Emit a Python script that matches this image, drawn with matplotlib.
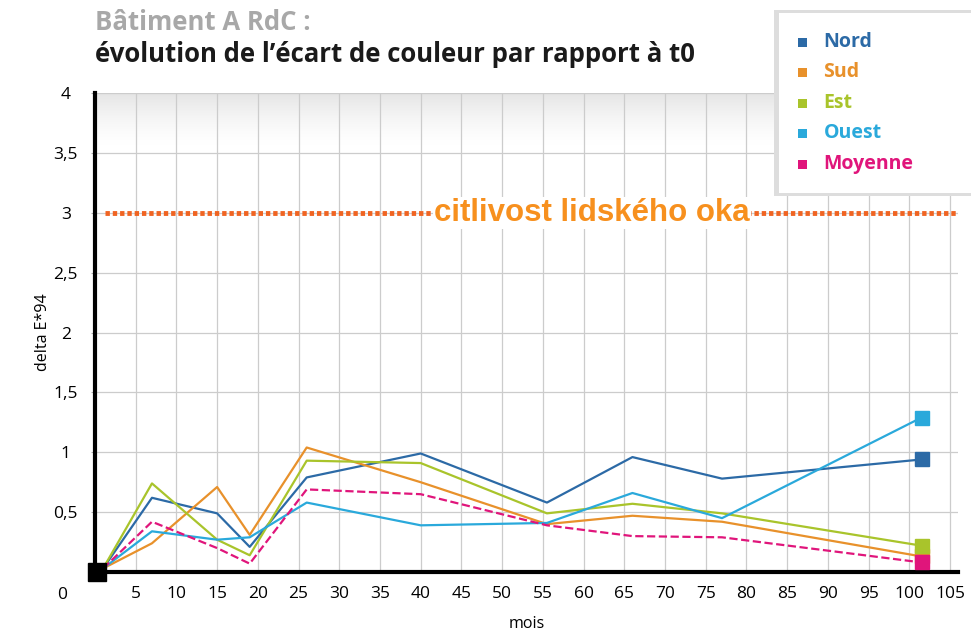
import matplotlib.pyplot as plt
import matplotlib.patches as mpatches
import numpy as np

# mois de mesure et écarts delta E*94
months = [1, 7, 15, 19, 26, 40, 55.5, 66, 77, 101.5]
nord = [0.03, 0.62, 0.49, 0.21, 0.79, 0.99, 0.58, 0.96, 0.78, 0.94]
sud = [0.03, 0.24, 0.71, 0.31, 1.04, 0.75, 0.40, 0.47, 0.42, 0.13]
est = [0.03, 0.74, 0.27, 0.14, 0.93, 0.91, 0.49, 0.57, 0.49, 0.22]
ouest = [0.03, 0.34, 0.27, 0.29, 0.58, 0.39, 0.41, 0.66, 0.45, 1.29]
moyenne = [0.03, 0.42, 0.20, 0.07, 0.69, 0.65, 0.39, 0.30, 0.29, 0.08]

names = ['Nord', 'Sud', 'Est', 'Ouest', 'Moyenne']
colors = ['#2c6aa6', '#e8912b', '#a9c42b', '#2aa9db', '#e0157b']
threshold = 3
threshold_label = 'citlivost lidského oka'

yticks = [0.5, 1, 1.5, 2, 2.5, 3, 3.5, 4]
ytick_labels = ['0,5', '1', '1,5', '2', '2,5', '3', '3,5', '4']
xticks = list(range(5, 106, 5))

plt.rcParams['font.family'] = ['Open Sans', 'DejaVu Sans']

fig = plt.figure(figsize=(9.71, 6.42), dpi=100)
ax = fig.add_axes([0.0978, 0.109, 0.889, 0.746])
ax.set_xlim(0, 106)
ax.set_ylim(0, 4)

# grey band at the top of the plot
t = np.linspace(0, 1, 60).reshape(-1, 1)
band = np.ones((60, 1, 4))
band[..., 0] = band[..., 1] = band[..., 2] = 0.90
band[..., 3] = t ** 1.5
ax.imshow(band, extent=[0, 106, 3.55, 4], aspect='auto', origin='lower',
          zorder=0.5)

ax.set_yticks(yticks)
ax.set_yticklabels(ytick_labels)
ax.set_xticks(xticks)
ax.grid(True, color='#cccccc', linewidth=0.9, zorder=1)
ax.set_axisbelow(True)
for s in ['top', 'right']:
    ax.spines[s].set_visible(False)
ax.spines['left'].set_linewidth(3)
ax.spines['bottom'].set_linewidth(3)
ax.tick_params(axis='y', length=3, color='#aaaaaa', pad=18, labelsize=12.5)
ax.tick_params(axis='x', length=0, pad=10, labelsize=12.5)
for lab in ax.get_yticklabels():
    lab.set_horizontalalignment('center')
ax.text(-4, -0.19, '0', ha='center', va='center', fontsize=12.5)

ax.set_xlabel('mois', fontsize=11.5, labelpad=10)
ax.set_ylabel('delta E*94', fontsize=11.5, labelpad=2)

series = [nord, sud, est, ouest, moyenne]
for vals, col, name in zip(series, colors, names):
    ls = '--' if name == 'Moyenne' else '-'
    ax.plot(months, vals, color=col, linewidth=1.6, linestyle=ls, zorder=3)
for vals, col in zip(series, colors):
    ax.plot(months[-1], vals[-1], marker='s', markersize=10, color=col,
            linestyle='none', zorder=4, clip_on=False)
ax.plot(0.2, 0, marker='s', markersize=13, color='black', zorder=5,
        clip_on=False)

# seuil de perception
ax.plot([1.2, 106], [threshold, threshold], color='#f06422', linewidth=3.5,
        linestyle=(0, (0.9, 0.6)), zorder=3, clip_on=False)
ax.text(61, threshold, threshold_label, ha='center', va='center',
        fontsize=22.5, fontweight='bold', color='#f7901e',
        family='Liberation Sans', zorder=4,
        bbox=dict(facecolor='white', edgecolor='none', pad=1))

# titre
fig.text(0.098, 0.965, 'Bâtiment A RdC :', fontsize=18.5, fontweight='bold',
         color='#a8a8a8', va='center')
fig.text(0.098, 0.915, 'évolution de l\u2019écart de couleur par rapport à t0',
         fontsize=18.5, fontweight='bold', color='#1a1a1a', va='center')

# légende
shadow = mpatches.Rectangle((0.797, 0.695), 0.25, 0.29, transform=fig.transFigure,
                            facecolor='#dddddd', edgecolor='none', zorder=5)
box = mpatches.Rectangle((0.802, 0.70), 0.25, 0.28, transform=fig.transFigure,
                         facecolor='white', edgecolor='none', zorder=6)
fig.patches.extend([shadow, box])
for k, (name, col) in enumerate(zip(names, colors)):
    yy = 0.935 - k * 0.0475
    fig.patches.append(mpatches.Rectangle((0.822, yy - 0.008), 0.009, 0.014,
                                          transform=fig.transFigure,
                                          facecolor=col, edgecolor='none', zorder=7))
    fig.text(0.848, yy, name, fontsize=14, fontweight='bold', color=col,
             va='center', zorder=8)

fig.savefig('out.png', dpi=100)
